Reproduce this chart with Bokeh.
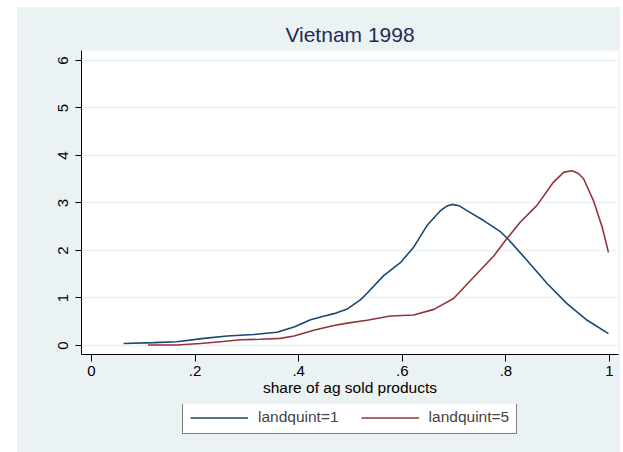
from bokeh.plotting import figure
from bokeh.models import Range1d, FixedTicker, Legend, LegendItem, Spacer
from bokeh.layouts import row, column
from bokeh.embed import file_html
from bokeh.resources import INLINE

title_text = "Vietnam 1998"
x_label = "share of ag sold products"
series_names = ["landquint=1", "landquint=5"]

x_q1 = [0.062, 0.12, 0.165, 0.217, 0.262, 0.313, 0.358, 0.391, 0.423, 0.45, 0.468, 0.494,
        0.519, 0.532, 0.564, 0.597, 0.622, 0.648, 0.674, 0.685, 0.696, 0.71, 0.725, 0.757,
        0.79, 0.805, 0.841, 0.88, 0.918, 0.957, 0.998]
y_q1 = [0.04, 0.06, 0.08, 0.15, 0.20, 0.23, 0.28, 0.39, 0.54, 0.62, 0.67, 0.77,
        0.96, 1.10, 1.47, 1.75, 2.07, 2.53, 2.84, 2.93, 2.97, 2.94, 2.84, 2.63,
        2.39, 2.23, 1.79, 1.30, 0.88, 0.53, 0.25]

x_q5 = [0.109, 0.165, 0.21, 0.249, 0.288, 0.326, 0.365, 0.391, 0.429, 0.468, 0.494, 0.532,
        0.577, 0.622, 0.661, 0.699, 0.738, 0.777, 0.802, 0.828, 0.86, 0.892, 0.912, 0.928,
        0.94, 0.95, 0.969, 0.986, 0.998]
y_q5 = [0.01, 0.01, 0.04, 0.08, 0.12, 0.13, 0.15, 0.20, 0.32, 0.42, 0.47, 0.53,
        0.62, 0.64, 0.76, 0.99, 1.44, 1.89, 2.25, 2.60, 2.95, 3.44, 3.65, 3.68,
        3.62, 3.51, 3.05, 2.49, 1.96]

x_ticks = [0, 0.2, 0.4, 0.6, 0.8, 1]
x_tick_labels = ["0", ".2", ".4", ".6", ".8", "1"]
y_ticks = [0, 1, 2, 3, 4, 5, 6]

BG = "#EAF2F3"
FONT = "Liberation Sans"
BLUE = "#1A476F"
RED = "#90353B"

p = figure(frame_width=537, frame_height=304,
           x_range=Range1d(-0.0193, 1.0174), y_range=Range1d(-0.19, 6.21),
           output_backend="svg", toolbar_location=None,
           min_border_left=64, min_border_right=2, min_border_top=43, min_border_bottom=50)
p.border_fill_color = BG
p.background_fill_color = "white"
p.outline_line_color = None

p.title.text = title_text
p.title.align = "center"
p.title.text_font = FONT
p.title.text_font_size = "21px"
p.title.text_font_style = "normal"
p.title.text_color = "#1E2D53"
p.title.standoff = 9

p.line(x_q1, y_q1, line_color=BLUE, line_width=1.6)
p.line(x_q5, y_q5, line_color=RED, line_width=1.6)

p.xgrid.grid_line_color = None
p.ygrid.grid_line_color = BG
p.ygrid.grid_line_width = 1.5

p.xaxis.ticker = FixedTicker(ticks=x_ticks)
p.xaxis.major_label_overrides = {t: l for t, l in zip(x_ticks, x_tick_labels)}
p.yaxis.ticker = FixedTicker(ticks=y_ticks)
p.yaxis.major_label_orientation = "vertical"

for ax in (p.xaxis[0], p.yaxis[0]):
    ax.axis_line_color = "black"
    ax.major_tick_line_color = "black"
    ax.minor_tick_line_color = None
    ax.major_tick_in = 0
    ax.major_tick_out = 7
    ax.major_label_text_font = FONT
    ax.major_label_text_font_size = "15px"
    ax.major_label_text_color = "black"

p.yaxis.major_tick_out = 6
p.yaxis.major_label_standoff = 7
p.xaxis.major_label_standoff = 4
p.xaxis.axis_label = x_label
p.xaxis.axis_label_text_font = FONT
p.xaxis.axis_label_text_font_size = "15.5px"
p.xaxis.axis_label_text_font_style = "normal"
p.xaxis.axis_label_text_color = "black"
p.xaxis.axis_label_standoff = 0

# legend strip below the chart (a second figure holding only the key)
lg = figure(width=603, height=48, x_axis_type=None, y_axis_type=None,
            output_backend="svg", toolbar_location=None,
            min_border_left=0, min_border_right=0, min_border_top=0, min_border_bottom=0)
lg.border_fill_color = BG
lg.background_fill_color = BG
lg.outline_line_color = None
lg.grid.grid_line_color = None
k1 = lg.line(x=[0, 0], y=[0, 0], line_color=BLUE, line_width=1.6)
k2 = lg.line(x=[0, 0], y=[0, 0], line_color=RED, line_width=1.6)

legend = Legend(items=[LegendItem(label=series_names[0], renderers=[k1]),
                       LegendItem(label=series_names[1], renderers=[k2])],
                orientation="horizontal", location=(101, 18))
legend.label_text_font = FONT
legend.label_text_font_size = "15.5px"
legend.label_height = 15
legend.glyph_width = 58
legend.glyph_height = 15
legend.label_standoff = 10
legend.spacing = 22
legend.padding = 7
legend.margin = 0
legend.border_line_color = "black"
legend.border_line_width = 1
legend.background_fill_color = "white"
legend.background_fill_alpha = 1
lg.add_layout(legend)

chart = column(p, lg, styles={"background-color": BG})
layout = column(Spacer(height=7), row(Spacer(width=17), chart))

open("out.html", "w").write(file_html(layout, INLINE))
